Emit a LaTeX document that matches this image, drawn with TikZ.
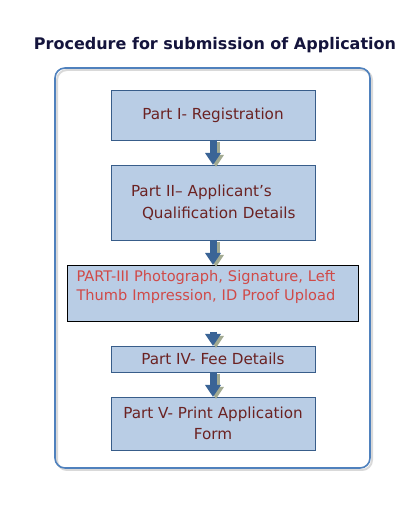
\documentclass[tikz,border=0pt]{standalone}
\usepackage{fontspec}
\setmainfont{DejaVu Sans}
\usepackage{xcolor}
\usetikzlibrary{arrows.meta, positioning}

\definecolor{boxfill}{HTML}{B9CDE5}
\definecolor{boxline}{HTML}{385D8A}
\definecolor{frameblue}{HTML}{4F81BD}
\definecolor{darkred}{HTML}{6B2222}
\definecolor{lightred}{HTML}{D04A48}
\definecolor{titlenavy}{HTML}{14143C}
\definecolor{arrowblue}{HTML}{3A6496}
\definecolor{arrowshade}{HTML}{A3AB92}

\begin{document}
\begin{tikzpicture}[
			x=1pt, y=1pt,
			node distance=25pt,
			every node/.style={font=\fontsize{15.2}{22}\selectfont},
			box/.style={
				rectangle, draw=boxline, fill=boxfill, line width=0.8pt,
				outer sep=0pt, text=darkred,
				align=center, minimum width=204pt
			},
			arrow/.style={
				-{Triangle[length=12pt,width=15pt]},
				line width=7pt, draw=arrowblue
			},
			arrowshadow/.style={
				-{Triangle[length=12pt,width=15pt]},
				line width=7pt, draw=arrowshade,
				transform canvas={shift={(3pt,-2pt)}}
			}
			]
			\useasboundingbox (0,0) rectangle (409,530);
			
			% title and frame
			\node[font=\fontsize{16}{19}\selectfont\bfseries, text=titlenavy] (title) at (215,485) {Procedure for submission of Application};
			\draw[gray!30, line width=2pt, rounded corners=10pt] (57,60) rectangle (372,460);
			\draw[frameblue, line width=1.6pt, rounded corners=10pt] (55,62) rectangle (370,462);
			
			% steps
			\node[box, minimum height=50pt] (part1) at (213,415) {Part I- Registration};
			\node[box, below=of part1, minimum height=75pt, align=left, text width=184pt, inner xsep=10pt] (part2)
				{\hspace*{10pt}Part II– Applicant’s\\\hspace*{21pt}Qualification Details};
			\node[box, below=of part2, draw=black, minimum width=291pt, minimum height=56pt,
				align=left, text width=273pt, inner xsep=9pt, text=lightred,
				font=\fontsize{14.6}{19}\selectfont] (part3)
				{PART-III Photograph, Signature, Left\\Thumb Impression, ID Proof Upload\\[-4pt]\mbox{}};
			\node[box, below=of part3, minimum height=26pt] (part4) {Part IV- Fee Details};
			\node[box, below=of part4, minimum height=53pt, font=\fontsize{15.2}{21}\selectfont] (part5) {Part V- Print Application\\Form};
			
			% arrows
			\draw[arrowshadow] (part1) -- (part2);
			\draw[arrow] (part1) -- (part2);
			\draw[arrowshadow] (part2) -- (part3);
			\draw[arrow] (part2) -- (part3);
			\draw[arrowshadow, shorten <=11pt] (part3) -- (part4);
			\draw[arrow, shorten <=11pt] (part3) -- (part4);
			\draw[arrowshadow] (part4) -- (part5);
			\draw[arrow] (part4) -- (part5);
			
		\end{tikzpicture}
\end{document}
